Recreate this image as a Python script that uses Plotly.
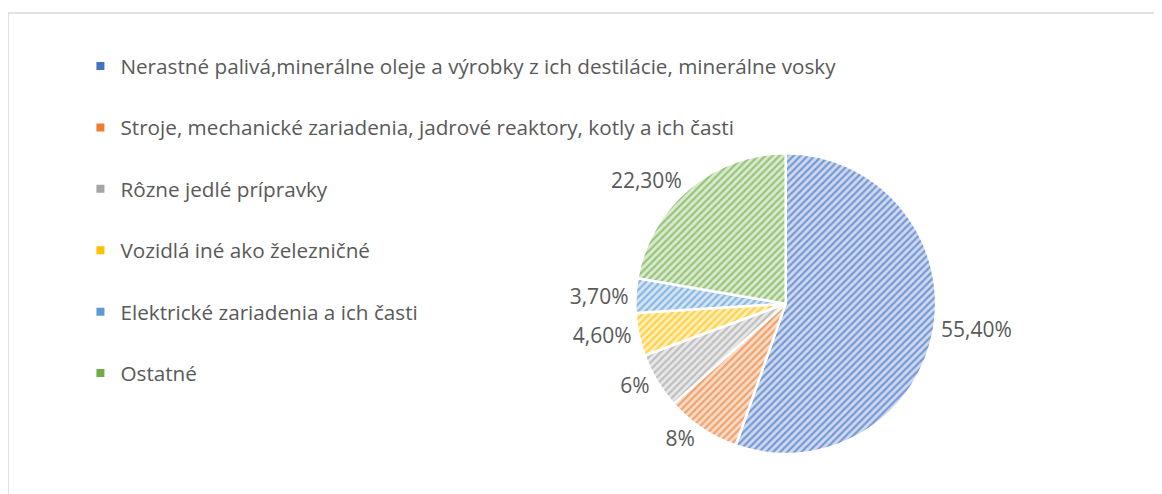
import plotly.graph_objects as go

categories = [
    "Nerastné palivá,minerálne oleje a výrobky z ich destilácie, minerálne vosky",
    "Stroje, mechanické zariadenia, jadrové reaktory, kotly a ich časti",
    "Rôzne jedlé prípravky",
    "Vozidlá iné ako železničné",
    "Elektrické zariadenia a ich časti",
    "Ostatné",
]
values = [55.4, 8, 6, 4.6, 3.7, 22.3]
value_labels = ["55,40%", "8%", "6%", "4,60%", "3,70%", "22,30%"]
colors = ["#4472C4", "#ED7D31", "#A5A5A5", "#FFC000", "#5B9BD5", "#70AD47"]


def tint(hex_color, t):
    h = hex_color.lstrip("#")
    r, g, b = (int(h[i:i + 2], 16) for i in (0, 2, 4))
    r, g, b = (round(v + (255 - v) * t) for v in (r, g, b))
    return f"#{r:02X}{g:02X}{b:02X}"


fg_colors = [tint(c, 0.28) for c in colors]
bg_colors = [tint(c, 0.74) for c in colors]

FONT = "Open Sans"
TXT = "#595959"

fig = go.Figure()

fig.add_trace(go.Pie(
    labels=categories,
    values=values,
    text=value_labels,
    texttemplate="%{text}",
    textposition="outside",
    textfont=dict(family=FONT, size=21, color=TXT),
    sort=False,
    direction="clockwise",
    rotation=0,
    showlegend=False,
    marker=dict(
        colors=colors,
        line=dict(color="white", width=2.5),
        pattern=dict(shape="/", fgcolor=fg_colors, bgcolor=bg_colors, size=5, solidity=0.45),
    ),
    domain=dict(x=[0.484, 0.884], y=[0.097, 0.706]),
    hoverinfo="label+percent",
))

for i, (name, c) in enumerate(zip(categories, colors)):
    fig.add_trace(go.Scatter(
        x=[None], y=[None], mode="markers", name=name,
        marker=dict(symbol="square", size=8, color=c),
        legendgroup=f"g{i}", showlegend=True,
    ))

fig.update_layout(
    width=1162, height=494,
    margin=dict(l=0, r=0, t=0, b=0),
    paper_bgcolor="white", plot_bgcolor="white",
    xaxis=dict(visible=False), yaxis=dict(visible=False),
    legend=dict(
        x=0.0637, y=0.923, xanchor="left", yanchor="top",
        font=dict(family=FONT, size=20.7, color=TXT),
        tracegroupgap=31.5, traceorder="grouped",
        bgcolor="rgba(0,0,0,0)",
    ),
    shapes=[dict(
        type="rect", xref="paper", yref="paper",
        x0=0, x1=1.2, y0=-0.2, y1=1 - 5 / 494,
        line=dict(color="#D9D9D9", width=1.5), fillcolor="rgba(0,0,0,0)", layer="below",
    )],
)

fig.write_html("out.html")
